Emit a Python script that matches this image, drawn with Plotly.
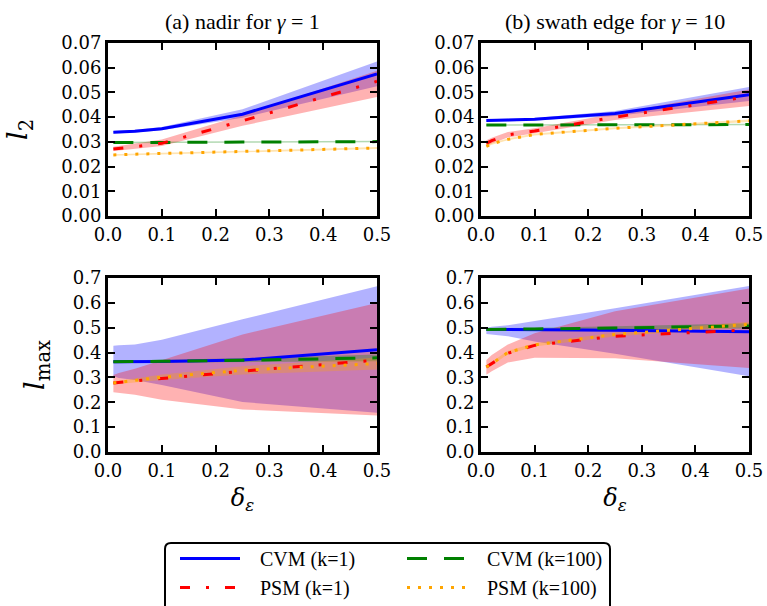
import plotly.graph_objects as go

# ---------------- data ----------------
delta = [0.01, 0.02, 0.05, 0.1, 0.25, 0.5]

# (a) nadir, gamma = 1, l2
a_cvm1 = [0.0339, 0.0340, 0.0343, 0.0353, 0.0412, 0.0575]
a_cvm1_lo = [0.0334, 0.0335, 0.0338, 0.0347, 0.0398, 0.0525]
a_cvm1_hi = [0.0344, 0.0345, 0.0349, 0.0360, 0.0432, 0.0625]
a_psm1 = [0.0271, 0.0273, 0.0280, 0.0294, 0.0385, 0.0545]
a_psm1_lo = [0.0263, 0.0265, 0.0270, 0.0283, 0.0365, 0.0482]
a_psm1_hi = [0.0280, 0.0283, 0.0292, 0.0310, 0.0408, 0.0588]
a_cvm100 = [0.0297, 0.0297, 0.0297, 0.0298, 0.0299, 0.0301]
a_cvm100_lo = [0.0294, 0.0294, 0.0294, 0.0295, 0.0296, 0.0298]
a_cvm100_hi = [0.0300, 0.0300, 0.0300, 0.0301, 0.0302, 0.0304]
a_psm100 = [0.0247, 0.0248, 0.0250, 0.0253, 0.0261, 0.0275]
a_psm100_lo = [0.0244, 0.0245, 0.0247, 0.0250, 0.0258, 0.0271]
a_psm100_hi = [0.0250, 0.0251, 0.0253, 0.0256, 0.0264, 0.0279]

# (b) swath edge, gamma = 10, l2
b_cvm1 = [0.0386, 0.0386, 0.0388, 0.0391, 0.0415, 0.0491]
b_cvm1_lo = [0.0381, 0.0381, 0.0383, 0.0386, 0.0405, 0.0465]
b_cvm1_hi = [0.0391, 0.0391, 0.0393, 0.0397, 0.0425, 0.0522]
b_psm1 = [0.0294, 0.0305, 0.0328, 0.0344, 0.0400, 0.0483]
b_psm1_lo = [0.0282, 0.0293, 0.0318, 0.0335, 0.0388, 0.0445]
b_psm1_hi = [0.0306, 0.0317, 0.0340, 0.0355, 0.0415, 0.0512]
b_cvm100 = [0.0368, 0.0368, 0.0368, 0.0368, 0.0369, 0.0370]
b_cvm100_lo = [0.0365, 0.0365, 0.0365, 0.0365, 0.0366, 0.0367]
b_cvm100_hi = [0.0371, 0.0371, 0.0371, 0.0371, 0.0372, 0.0373]
b_psm100 = [0.0282, 0.0292, 0.0310, 0.0330, 0.0355, 0.0385]
b_psm100_lo = [0.0278, 0.0288, 0.0306, 0.0326, 0.0351, 0.0380]
b_psm100_hi = [0.0286, 0.0296, 0.0314, 0.0334, 0.0359, 0.0390]

# (c) nadir, gamma = 1, lmax
c_cvm1 = [0.363, 0.363, 0.363, 0.364, 0.370, 0.411]
c_cvm1_lo = [0.305, 0.298, 0.290, 0.270, 0.201, 0.158]
c_cvm1_hi = [0.427, 0.429, 0.432, 0.452, 0.534, 0.667]
c_psm1 = [0.278, 0.280, 0.285, 0.295, 0.325, 0.370]
c_psm1_lo = [0.240, 0.237, 0.230, 0.210, 0.171, 0.147]
c_psm1_hi = [0.310, 0.318, 0.335, 0.370, 0.473, 0.599]
c_cvm100 = [0.363, 0.363, 0.364, 0.365, 0.369, 0.379]
c_cvm100_lo = [0.358, 0.358, 0.358, 0.358, 0.360, 0.365]
c_cvm100_hi = [0.368, 0.368, 0.369, 0.371, 0.377, 0.392]
c_psm100 = [0.278, 0.281, 0.288, 0.301, 0.329, 0.356]
c_psm100_lo = [0.272, 0.274, 0.280, 0.290, 0.312, 0.332]
c_psm100_hi = [0.284, 0.288, 0.296, 0.312, 0.345, 0.380]

# (d) swath edge, gamma = 10, lmax
d_cvm1 = [0.493, 0.493, 0.493, 0.492, 0.490, 0.484]
d_cvm1_lo = [0.475, 0.472, 0.466, 0.445, 0.395, 0.305]
d_cvm1_hi = [0.500, 0.504, 0.510, 0.527, 0.578, 0.668]
d_psm1 = [0.342, 0.356, 0.397, 0.429, 0.466, 0.491]
d_psm1_lo = [0.311, 0.325, 0.360, 0.379, 0.377, 0.338]
d_psm1_hi = [0.370, 0.390, 0.432, 0.478, 0.566, 0.658]
d_cvm100 = [0.493, 0.493, 0.494, 0.495, 0.499, 0.507]
d_cvm100_lo = [0.489, 0.489, 0.490, 0.490, 0.492, 0.497]
d_cvm100_hi = [0.497, 0.497, 0.498, 0.500, 0.506, 0.518]
d_psm100 = [0.342, 0.355, 0.400, 0.431, 0.473, 0.514]
d_psm100_lo = [0.335, 0.348, 0.393, 0.424, 0.465, 0.504]
d_psm100_hi = [0.349, 0.362, 0.407, 0.438, 0.481, 0.524]

series_names = ["CVM (k=1)", "CVM (k=100)", "PSM (k=1)", "PSM (k=100)"]
titles = ["(a) nadir for <i>γ</i> = 1", "(b) swath edge for <i>γ</i> = 10"]
x_ticks = [0.0, 0.1, 0.2, 0.3, 0.4, 0.5]
y_ticks_top = [0.00, 0.01, 0.02, 0.03, 0.04, 0.05, 0.06, 0.07]
y_ticks_bot = [0.0, 0.1, 0.2, 0.3, 0.4, 0.5, 0.6, 0.7]

panels = [
    dict(data=[(a_cvm1, a_cvm1_lo, a_cvm1_hi), (a_cvm100, a_cvm100_lo, a_cvm100_hi),
               (a_psm1, a_psm1_lo, a_psm1_hi), (a_psm100, a_psm100_lo, a_psm100_hi)],
         xa="x", ya="y"),
    dict(data=[(b_cvm1, b_cvm1_lo, b_cvm1_hi), (b_cvm100, b_cvm100_lo, b_cvm100_hi),
               (b_psm1, b_psm1_lo, b_psm1_hi), (b_psm100, b_psm100_lo, b_psm100_hi)],
         xa="x2", ya="y2"),
    dict(data=[(c_cvm1, c_cvm1_lo, c_cvm1_hi), (c_cvm100, c_cvm100_lo, c_cvm100_hi),
               (c_psm1, c_psm1_lo, c_psm1_hi), (c_psm100, c_psm100_lo, c_psm100_hi)],
         xa="x3", ya="y3"),
    dict(data=[(d_cvm1, d_cvm1_lo, d_cvm1_hi), (d_cvm100, d_cvm100_lo, d_cvm100_hi),
               (d_psm1, d_psm1_lo, d_psm1_hi), (d_psm100, d_psm100_lo, d_psm100_hi)],
         xa="x4", ya="y4"),
]

# ---------------- styles ----------------
line_colors = ["#0000ff", "#008000", "#ff0000", "#ffa500"]
band_colors = ["rgba(0,0,255,0.3)", "rgba(0,128,0,0.3)", "rgba(255,0,0,0.3)", "rgba(255,165,0,0.3)"]
dashes = ["solid", "20px,17px", "10px,16px,3px,16px", "3px,8px"]
widths = [3, 3, 3, 3]
legend_ids = ["legend", "legend2", "legend", "legend2"]
band_order = [0, 2, 1, 3]
SERIF_MATH = "DejaVu Serif, serif"
SERIF_TEXT = "Liberation Serif, Times New Roman, serif"

fig = go.Figure()
for pi, p in enumerate(panels):
    for si in band_order:
        mid, lo, hi = p["data"][si]
        fig.add_trace(go.Scatter(
            x=delta + delta[::-1], y=hi + lo[::-1], fill="toself",
            fillcolor=band_colors[si], line=dict(width=0), mode="lines",
            hoverinfo="skip", showlegend=False, xaxis=p["xa"], yaxis=p["ya"]))
    for si in range(4):
        mid, lo, hi = p["data"][si]
        fig.add_trace(go.Scatter(
            x=delta, y=mid, mode="lines", name="\u00a0\u00a0\u00a0" + series_names[si],
            line=dict(color=line_colors[si], width=widths[si], dash=dashes[si]),
            showlegend=(pi == 0), legend=legend_ids[si],
            xaxis=p["xa"], yaxis=p["ya"]))

W, H = 767, 606
tick_font = dict(family=SERIF_MATH, size=18, color="black")

def px_x(a, b):
    return [a / W, b / W]

def px_y(top, bottom):
    return [1 - bottom / H, 1 - top / H]

axis_common = dict(showline=True, linewidth=3, linecolor="black", mirror="allticks",
                   ticks="inside", ticklen=7, tickwidth=1.5, tickcolor="black",
                   showgrid=False, zeroline=False, tickfont=tick_font)

xdom_l, xdom_r = px_x(108, 377), px_x(481, 749)
ydom_t, ydom_b = px_y(43, 216), px_y(278, 452)

leg_common = dict(orientation="v", xanchor="left", yanchor="top",
                  borderwidth=0, bgcolor="rgba(0,0,0,0)",
                  font=dict(family=SERIF_TEXT, size=20), itemwidth=60,
                  tracegroupgap=0)
layout = dict(
    width=W, height=H, margin=dict(l=0, r=0, t=0, b=0, autoexpand=False),
    paper_bgcolor="white", plot_bgcolor="white",
    font=dict(family=SERIF_TEXT, color="black"),
    showlegend=True,
    legend=dict(leg_common, x=175 / W, y=1 - 539 / H),
    legend2=dict(leg_common, x=402 / W, y=1 - 539 / H),
    shapes=[dict(type="path", xref="paper", yref="paper",
                 path=(f"M {165 / W},{1 - 620 / H} L {165 / W},{1 - 549 / H} "
                       f"Q {165 / W},{1 - 543 / H} {171 / W},{1 - 543 / H} "
                       f"L {604 / W},{1 - 543 / H} Q {610 / W},{1 - 543 / H} {610 / W},{1 - 549 / H} "
                       f"L {610 / W},{1 - 620 / H} Z"),
                 line=dict(color="black", width=2), fillcolor="rgba(0,0,0,0)", layer="above")],
)
xt_title = dict(text="<i>δ</i><sub><i>ε</i></sub>", font=dict(family=SERIF_MATH, size=24), standoff=10)
for i, (xd, yd) in enumerate([(xdom_l, ydom_t), (xdom_r, ydom_t), (xdom_l, ydom_b), (xdom_r, ydom_b)]):
    sfx = "" if i == 0 else str(i + 1)
    top = i < 2
    xa = dict(axis_common, domain=xd, range=[0, 0.5], tickvals=x_ticks, tickformat=".1f",
              anchor="y" + sfx)
    ya = dict(axis_common, domain=yd, range=[0, 0.07] if top else [0, 0.7],
              tickvals=y_ticks_top if top else y_ticks_bot,
              tickformat=".2f" if top else ".1f", anchor="x" + sfx)
    if not top:
        xa["title"] = xt_title
    if i == 0:
        ya["title"] = dict(text="<i>l</i><sub>2</sub>", font=dict(family=SERIF_MATH, size=28), standoff=26)
    if i == 2:
        ya["title"] = dict(text="<i>l</i><sub>max</sub>", font=dict(family=SERIF_MATH, size=28), standoff=20)
    layout["xaxis" + sfx] = xa
    layout["yaxis" + sfx] = ya

fig.update_layout(**layout)

for t, xd in zip(titles, [xdom_l, xdom_r]):
    fig.add_annotation(text=t, x=(xd[0] + xd[1]) / 2, y=1 - 21 / H, xref="paper", yref="paper",
                       xanchor="center", yanchor="middle", showarrow=False,
                       font=dict(family=SERIF_TEXT, size=22, color="black"))

fig.write_html("out.html")
